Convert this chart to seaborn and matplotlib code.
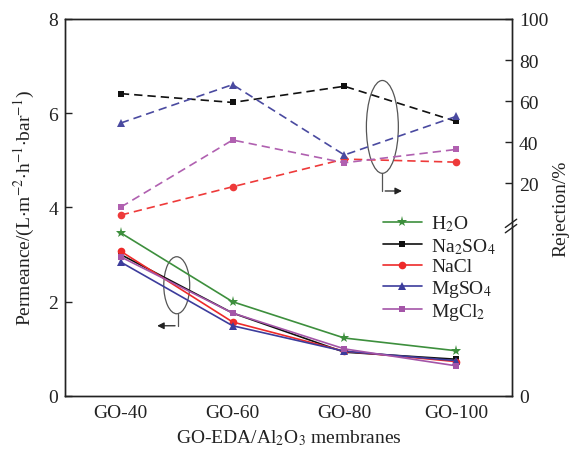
import matplotlib
matplotlib.use("Agg")
import matplotlib.pyplot as plt
import seaborn as sns
import pandas as pd
from matplotlib.patches import Ellipse

sns.set_theme(style="white")
plt.rcParams['font.family'] = ['Liberation Serif', 'DejaVu Serif']
plt.rcParams['mathtext.fontset'] = 'stix'

membranes = ["GO-40", "GO-60", "GO-80", "GO-100"]
series = ["H2O", "Na2SO4", "NaCl", "MgSO4", "MgCl2"]
labels = ["H$_2$O", "Na$_2$SO$_4$", "NaCl", "MgSO$_4$", "MgCl$_2$"]

perm_H2O = [3.46, 2.00, 1.23, 0.96]
perm_Na2SO4 = [3.00, 1.76, 0.93, 0.78]
perm_NaCl = [3.07, 1.57, 0.95, 0.73]
perm_MgSO4 = [2.84, 1.49, 0.95, 0.75]
perm_MgCl2 = [2.95, 1.76, 1.00, 0.64]

rej_Na2SO4 = [63.6, 59.3, 67.2, 50.1]
rej_NaCl = [4.4, 18.2, 31.7, 30.2]
rej_MgSO4 = [49.3, 68.0, 33.7, 52.5]
rej_MgCl2 = [8.3, 41.0, 29.9, 36.4]

colors = {"H2O": "#3d8f3d", "Na2SO4": "#111111", "NaCl": "#ee2a2a",
          "MgSO4": "#3c3c9c", "MgCl2": "#a455a8"}
dash_colors = {"Na2SO4": "#111111", "NaCl": "#ee3a3a",
               "MgSO4": "#4a4aa0", "MgCl2": "#b060b0"}
markers = {"H2O": "*", "Na2SO4": "s", "NaCl": "o", "MgSO4": "^", "MgCl2": "s"}
msizes = {"H2O": 8, "Na2SO4": 5, "NaCl": 5.5, "MgSO4": 6, "MgCl2": 5}

perm = {"H2O": perm_H2O, "Na2SO4": perm_Na2SO4, "NaCl": perm_NaCl,
        "MgSO4": perm_MgSO4, "MgCl2": perm_MgCl2}
rej = {"Na2SO4": rej_Na2SO4, "NaCl": rej_NaCl, "MgSO4": rej_MgSO4, "MgCl2": rej_MgCl2}

fig = plt.figure(figsize=(5.74, 4.52), dpi=100)
ax = fig.add_axes([0.1132, 0.1217, 0.892 - 0.1132, 0.9558 - 0.1217])
ax2 = ax.twinx()

xpos = list(range(len(membranes)))
for s, lab in zip(series, labels):
    df = pd.DataFrame({"x": xpos, "y": perm[s]})
    sns.lineplot(data=df, x="x", y="y", ax=ax, color=colors[s], marker=markers[s],
                 markersize=msizes[s], markeredgewidth=0, linewidth=1.2, label=lab,
                 legend=False)

for s in ["Na2SO4", "NaCl", "MgSO4", "MgCl2"]:
    df = pd.DataFrame({"x": xpos, "y": rej[s]})
    sns.lineplot(data=df, x="x", y="y", ax=ax2, color=dash_colors[s], marker=markers[s],
                 markersize=msizes[s], markeredgewidth=0, linewidth=1.2,
                 linestyle=(0, (5, 3)), legend=False)

ax.set_xlim(-0.5, 3.5)
ax.set_ylim(0, 8)
ax2.set_ylim(-83.8, 100)
ax.set_xticks(xpos)
ax.set_xticklabels(membranes)
ax.set_yticks([0, 2, 4, 6, 8])
ax2.set_yticks([-83.8, 20, 40, 60, 80, 100])
ax2.set_yticklabels(["0", "20", "40", "60", "80", "100"])

for a in (ax, ax2):
    for sp in a.spines.values():
        sp.set_color("#222222")
        sp.set_linewidth(1.0)
ax.tick_params(axis="both", direction="in", length=5, width=1, labelsize=14,
               color="#222222", labelcolor="#222222", pad=5)
ax.tick_params(axis="x", pad=6)
ax2.tick_params(axis="y", direction="in", length=5, width=1, labelsize=14,
                color="#222222", labelcolor="#222222", pad=5)

ax.set_xlabel("GO-EDA/Al$_2$O$_3$ membranes", fontsize=14, color="#222222", labelpad=4)
ax.set_ylabel("Permeance/(L$\\cdot$m$^{-2}$$\\cdot$h$^{-1}$$\\cdot$bar$^{-1}$)",
              fontsize=14, color="#222222", labelpad=8)
ax2.set_ylabel("Rejection/%", fontsize=14, color="#222222", labelpad=3)

# axis break marks on the right spine
yb = (397 - 227) / 377.0
for dy in (-0.007, 0.007):
    ax2.plot([0.985, 1.0105], [yb + dy - 0.011, yb + dy + 0.011], transform=ax2.transAxes,
             color="#222222", linewidth=1.0, clip_on=False)

# annotation ellipses and arrows
ax.add_patch(Ellipse((0.50, 2.35), 0.232, 1.21, fill=False, edgecolor="#555555", linewidth=0.9))
ax.plot([0.51, 0.51], [1.74, 1.49], color="#555555", linewidth=0.9)
ax.annotate("", xy=(0.30, 1.49), xytext=(0.51, 1.49),
            arrowprops=dict(arrowstyle="-|>", color="#222222", lw=0.9, mutation_scale=10))
ax.add_patch(Ellipse((2.34, 5.71), 0.286, 1.97, fill=False, edgecolor="#555555", linewidth=0.9))
ax.plot([2.34, 2.34], [4.73, 4.35], color="#555555", linewidth=0.9)
ax.annotate("", xy=(2.54, 4.35), xytext=(2.34, 4.35),
            arrowprops=dict(arrowstyle="-|>", color="#222222", lw=0.9, mutation_scale=10))

handles, labs = ax.get_legend_handles_labels()
leg = ax.legend(handles, labs, loc="upper left", bbox_to_anchor=(375 / 574, 1 - 207 / 452),
                bbox_transform=fig.transFigure, frameon=False, fontsize=14,
                handlelength=2.0, handletextpad=0.5, labelspacing=0.12, borderaxespad=0)
for t in leg.get_texts():
    t.set_color("#222222")

fig.savefig("out.png", dpi=100)
